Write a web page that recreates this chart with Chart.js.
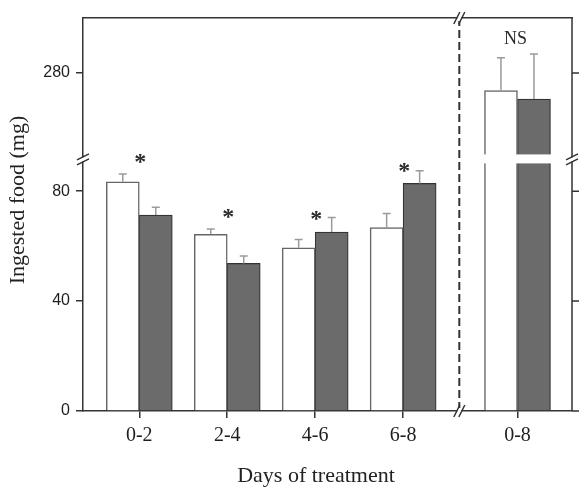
<!doctype html>
<html>

<head>
	<title>Ingested food</title>
	<script src="https://cdn.jsdelivr.net/npm/chart.js@4/dist/chart.umd.min.js"></script>
	<style>
		body {
			margin: 0;
			background: #fff;
		}

		#holder {
			width: 579px;
			height: 487px;
		}
	</style>
</head>

<body>
	<div id="holder"><canvas id="chart-area"></canvas></div>
	<script>
		// data
		var categories = ['0-2', '2-4', '4-6', '6-8', '0-8'];
		var controlFood = [83.4, 64.3, 59.4, 66.7, 273.6];
		var controlErr = [2.8, 1.9, 3.0, 5.2, 11.9];
		var treatedFood = [71.3, 53.7, 65.1, 82.8, 270.5];
		var treatedErr = [2.8, 2.7, 5.3, 4.6, 16.4];
		var marks = ['*', '*', '*', '*', 'NS'];
		var markLevel = [92, 72, 71.3, 88.8, 292.4];
		var lowerTicks = [0, 40, 80];
		var upperTicks = [280];

		// broken axis ranges
		var lowMax = 93, highMin = 250, highMax = 300;
		var ink = '#333';

		// left panel groups at 1..4, the pooled group sits in the right panel
		function xAt(i) {
			return i < 4 ? i + 1 : 5.3;
		}

		function lowerPart(vals) {
			return vals.map(function (v, i) {
				return { x: xAt(i), y: Math.min(v, lowMax) };
			});
		}

		function upperPart(vals) {
			return vals.map(function (v, i) {
				return { x: xAt(i), y: v > lowMax ? v : null };
			});
		}

		var whiteStyle = { backgroundColor: '#fff', borderColor: '#666', borderWidth: 1.5, stack: 'c' };
		var darkStyle = { backgroundColor: '#6b6b6b', borderColor: '#333', borderWidth: 1.2, stack: 't' };

		function ds(label, data, axis, style, errs) {
			return Object.assign({ label: label, data: data, yAxisID: axis, errs: errs, clip: 0 }, style);
		}

		function dividerX(chart) {
			var x = chart.scales.x;
			return (x.getPixelForValue(xAt(3)) + x.getPixelForValue(xAt(4))) / 2 - 1;
		}

		var breakPlugin = {
			id: 'breaks',
			afterDatasetsDraw: function (chart) {
				var ctx = chart.ctx, a = chart.chartArea;
				var x = chart.scales.x, yl = chart.scales.y, yh = chart.scales.y2;

				// error bars, upward only
				chart.data.datasets.forEach(function (d, di) {
					var meta = chart.getDatasetMeta(di);
					var sc = chart.scales[d.yAxisID];
					meta.data.forEach(function (bar, j) {
						var v = d.data[j].y;
						if (v === null || v >= sc.max || isNaN(bar.y)) return;
						var top = sc.getPixelForValue(v + d.errs[j]);
						ctx.save();
						ctx.strokeStyle = '#9a9a9a';
						ctx.lineWidth = 1.5;
						ctx.beginPath();
						ctx.moveTo(bar.x, bar.y);
						ctx.lineTo(bar.x, top);
						ctx.moveTo(bar.x - 4, top);
						ctx.lineTo(bar.x + 4, top);
						ctx.stroke();
						ctx.restore();
					});
				});

				// gap across the broken bars
				var gapTop = yh.bottom - 1;
				var gapBot = yh.bottom + 8;
				var divX = dividerX(chart);
				ctx.save();
				ctx.fillStyle = '#fff';
				ctx.fillRect(divX + 3, gapTop, a.right - divX - 4, gapBot - gapTop);

				// dashed panel divider
				ctx.strokeStyle = ink;
				ctx.lineWidth = 2;
				ctx.setLineDash([8, 4]);
				ctx.beginPath();
				ctx.moveTo(divX, a.top);
				ctx.lineTo(divX, a.bottom);
				ctx.stroke();
				ctx.restore();

				// significance marks
				ctx.save();
				ctx.fillStyle = '#2a2a2a';
				ctx.textAlign = 'center';
				ctx.textBaseline = 'middle';
				marks.forEach(function (m, i) {
					var sc = markLevel[i] > lowMax + 10 ? yh : yl;
					var px = x.getPixelForValue(xAt(i));
					if (m === '*') {
						ctx.font = 'bold 24px "Liberation Serif"';
						ctx.fillText(m, px + 1, sc.getPixelForValue(markLevel[i]) + 5);
					} else {
						ctx.font = '18px "Liberation Serif"';
						ctx.fillText(m, px - 2, sc.getPixelForValue(markLevel[i]));
					}
				});
				ctx.restore();
			},
			afterDraw: function (chart) {
				var ctx = chart.ctx, a = chart.chartArea;
				var yl = chart.scales.y, yh = chart.scales.y2;
				var divX = dividerX(chart);
				var by = yh.bottom + 4;

				// right-hand frame with outward ticks
				ctx.save();
				ctx.strokeStyle = ink;
				ctx.lineWidth = 1.5;
				ctx.beginPath();
				ctx.moveTo(a.right, a.top);
				ctx.lineTo(a.right, a.bottom);
				lowerTicks.forEach(function (v) {
					var py = yl.getPixelForValue(v);
					ctx.moveTo(a.right, py);
					ctx.lineTo(a.right + 7, py);
				});
				upperTicks.forEach(function (v) {
					var py = yh.getPixelForValue(v);
					ctx.moveTo(a.right, py);
					ctx.lineTo(a.right + 7, py);
				});
				ctx.stroke();
				ctx.restore();

				function slashes(cx, cy, vertical) {
					ctx.save();
					ctx.fillStyle = '#fff';
					if (vertical) ctx.fillRect(cx - 3, cy - 2, 6, 4);
					else ctx.fillRect(cx - 2, cy - 3, 4, 6);
					ctx.strokeStyle = ink;
					ctx.lineWidth = 1.5;
					ctx.beginPath();
					[-2.5, 2.5].forEach(function (o) {
						if (vertical) {
							ctx.moveTo(cx - 6, cy + o + 3);
							ctx.lineTo(cx + 6, cy + o - 3);
						} else {
							ctx.moveTo(cx + o - 3, cy + 6);
							ctx.lineTo(cx + o + 3, cy - 6);
						}
					});
					ctx.stroke();
					ctx.restore();
				}

				slashes(a.left, by, true);
				slashes(a.right, by, true);
				slashes(divX, a.top, false);
				slashes(divX, a.bottom, false);

				// axis titles
				ctx.save();
				ctx.fillStyle = '#222';
				ctx.font = '22px "Liberation Serif"';
				ctx.textAlign = 'center';
				ctx.textBaseline = 'middle';
				ctx.fillText('Days of treatment', 316, 476);
				ctx.translate(18, 200);
				ctx.rotate(-Math.PI / 2);
				ctx.fillText('Ingested food (mg)', 0, 0);
				ctx.restore();
			}
		};

		function setTicks(list) {
			return function (s) {
				s.ticks = list.map(function (v) { return { value: v }; });
			};
		}

		var axisGrid = { display: true, drawOnChartArea: false, offset: false, tickLength: 7, color: ink, lineWidth: 1.5 };
		var axisBorder = { color: ink, width: 1.5 };

		Chart.defaults.font.family = '"Liberation Serif"';
		Chart.defaults.color = '#1e1e1e';

		var config = {
			type: 'bar',
			data: {
				datasets: [
					ds('Control', lowerPart(controlFood), 'y', whiteStyle, controlErr),
					ds('Treated', lowerPart(treatedFood), 'y', darkStyle, treatedErr),
					ds('Control', upperPart(controlFood), 'y2', whiteStyle, controlErr),
					ds('Treated', upperPart(treatedFood), 'y2', darkStyle, treatedErr)
				]
			},
			options: {
				responsive: true,
				maintainAspectRatio: false,
				animation: false,
				layout: { padding: { top: 18, left: 0, right: 7, bottom: 0 } },
				barThickness: 33,
				plugins: {
					legend: { display: false },
					tooltip: { enabled: false }
				},
				scales: {
					x: {
						type: 'linear',
						position: 'bottom',
						offset: false,
						min: 0.36,
						max: 5.92,
						z: 1,
						grid: axisGrid,
						border: axisBorder,
						afterBuildTicks: setTicks(categories.map(function (c, i) { return xAt(i); })),
						afterFit: function (s) { s.height = 76; },
						ticks: {
							autoSkip: false,
							maxRotation: 0,
							padding: 6,
							font: { size: 20 },
							callback: function (v) {
								var i = categories.findIndex(function (c, k) { return xAt(k) === v; });
								return i < 0 ? '' : categories[i];
							}
						}
					},
					xTop: {
						type: 'linear',
						position: 'top',
						min: 0,
						max: 1,
						z: 1,
						grid: { display: false },
						border: axisBorder,
						ticks: { display: false },
						afterFit: function (s) { s.height = 0; }
					},
					y: {
						type: 'linear',
						position: 'left',
						stack: 'left',
						stackWeight: lowMax,
						min: 0,
						max: lowMax,
						stacked: false,
						z: 1,
						grid: axisGrid,
						border: axisBorder,
						afterBuildTicks: setTicks(lowerTicks),
						afterFit: function (s) { s.width = 83; },
						ticks: { padding: 6, font: { family: '"Liberation Sans"', size: 16 } }
					},
					y2: {
						type: 'linear',
						position: 'left',
						stack: 'left',
						stackWeight: highMax - highMin,
						min: highMin,
						max: highMax,
						stacked: false,
						z: 1,
						grid: axisGrid,
						border: axisBorder,
						afterBuildTicks: setTicks(upperTicks),
						afterFit: function (s) { s.width = 83; },
						ticks: { padding: 6, font: { family: '"Liberation Sans"', size: 16 } }
					}
				}
			},
			plugins: [breakPlugin]
		};

		window.onload = function () {
			var ctx = document.getElementById('chart-area').getContext('2d');
			window.myBar = new Chart(ctx, config);
		};
	</script>
</body>

</html>
